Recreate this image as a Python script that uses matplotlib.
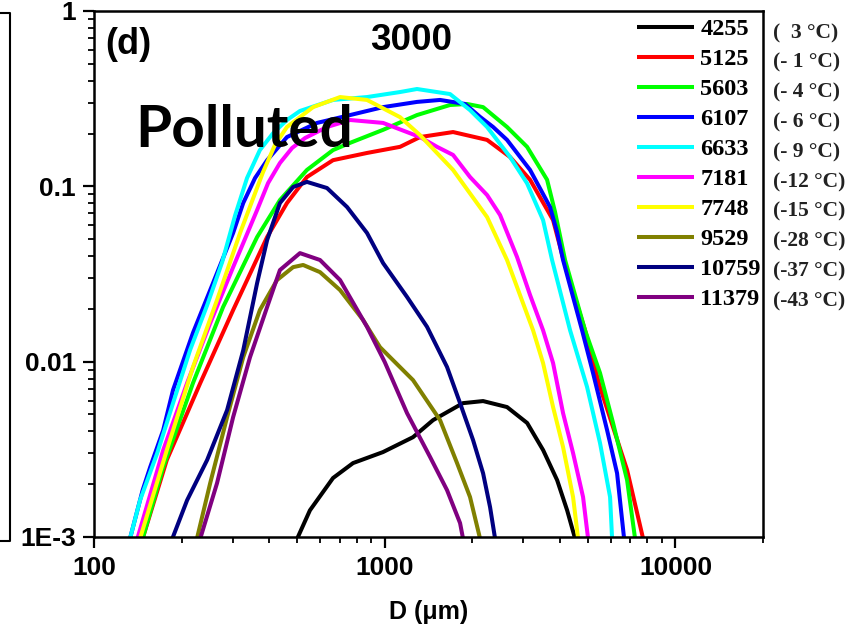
import matplotlib
matplotlib.use("Agg")
import matplotlib.pyplot as plt
from matplotlib.ticker import FixedLocator, LogLocator, NullFormatter
from matplotlib.lines import Line2D

plt.rcParams["font.family"] = ["Liberation Sans", "DejaVu Sans"]
plt.rcParams["font.weight"] = "bold"

# ---------------- data ----------------
labels = ["4255", "5125", "5603", "6107", "6633", "7181", "7748", "9529", "10759", "11379"]
temps = ["(  3 °C)", "(- 1 °C)", "(- 4 °C)", "(- 6 °C)", "(- 9 °C)",
         "(-12 °C)", "(-15 °C)", "(-28 °C)", "(-37 °C)", "(-43 °C)"]
colors = ["#000000", "#FF0000", "#00FF00", "#0000FF", "#00FFFF",
          "#FF00FF", "#FFFF00", "#808000", "#000080", "#800080"]

D_4255 = [500, 553, 664, 778, 986, 1251, 1466, 1858, 2179, 2634, 3089, 3506, 3917, 4240, 4515]
N_4255 = [0.00098, 0.00142, 0.00217, 0.00264, 0.00305, 0.00371, 0.00464, 0.0058, 0.00596,
          0.00551, 0.00447, 0.00313, 0.00211, 0.00142, 0.00098]

D_5125 = [147, 178, 232, 301, 394, 461, 540, 664, 869, 1129, 1322, 1718, 2249, 2698, 3161,
          3793, 4105, 4479, 4887, 5502, 6100, 6817, 7737]
N_5125 = [0.00098, 0.00275, 0.00755, 0.0197, 0.0514, 0.0803, 0.113, 0.141, 0.155, 0.168, 0.191,
          0.204, 0.184, 0.147, 0.109, 0.0642, 0.039, 0.024, 0.0151, 0.00716, 0.00423, 0.00241,
          0.00098]

D_5603 = [147, 173, 219, 278, 364, 436, 540, 664, 760, 987, 1291, 1677, 1919, 2179, 2634, 3087,
          3617, 3853, 4171, 4887, 5502, 6100, 6817, 7261]
N_5603 = [0.00098, 0.0025, 0.00755, 0.0205, 0.0514, 0.0835, 0.124, 0.161, 0.177, 0.210, 0.255,
          0.291, 0.295, 0.283, 0.218, 0.168, 0.109, 0.0714, 0.038, 0.0151, 0.00861, 0.00447,
          0.00211, 0.00098]

D_6107 = [133, 147, 156, 173, 187, 219, 251, 301, 326, 358, 394, 461, 585, 760, 987, 1291, 1550,
          1889, 2127, 2359, 2634, 3161, 3704, 3914, 4105, 4772, 5206, 5818, 6297, 6657]
N_6107 = [0.00098, 0.00185, 0.0025, 0.00407, 0.00689, 0.0146, 0.0256, 0.0542, 0.0803, 0.1115,
          0.141, 0.191, 0.230, 0.255, 0.283, 0.303, 0.311, 0.295, 0.249, 0.218, 0.184, 0.124,
          0.0762, 0.0549, 0.038, 0.0151, 0.00861, 0.00407, 0.00231, 0.00098]

D_6633 = [133, 144, 165, 187, 214, 245, 276, 306, 336, 372, 413, 461, 511, 664, 869, 1129, 1291,
          1677, 1965, 2249, 2698, 3087, 3504, 3763, 4340, 4966, 5502, 5957, 6053]
N_6633 = [0.00098, 0.00162, 0.00301, 0.0058, 0.01165, 0.0210, 0.0370, 0.0686, 0.1115, 0.161,
          0.201, 0.239, 0.269, 0.311, 0.323, 0.345, 0.359, 0.336, 0.272, 0.218, 0.147, 0.104,
          0.0642, 0.038, 0.0151, 0.00716, 0.00343, 0.00169, 0.00098]

D_7181 = [141, 173, 209, 251, 301, 364, 397, 436, 480, 532, 633, 760, 987, 1322, 1513, 1718,
          1965, 2249, 2493, 2852, 3161, 3504, 3793, 4105, 4444, 4810, 5005]
N_7181 = [0.00098, 0.00313, 0.00755, 0.0166, 0.0346, 0.0733, 0.1044, 0.1358, 0.1654, 0.1886,
          0.218, 0.239, 0.230, 0.191, 0.168, 0.151, 0.113, 0.0892, 0.0686, 0.0395, 0.024, 0.0151,
          0.00982, 0.00509, 0.00301, 0.00169, 0.00098]

D_7748 = [144, 178, 219, 265, 318, 381, 419, 461, 567, 702, 869, 1129, 1322, 1718, 2249, 2634,
          3237, 3504, 3793, 4105, 4444, 4624]
N_7748 = [0.00098, 0.00313, 0.00932, 0.0225, 0.0542, 0.12, 0.172, 0.218, 0.283, 0.323, 0.311,
          0.248, 0.196, 0.124, 0.0668, 0.038, 0.0151, 0.00982, 0.00551, 0.00326, 0.00169, 0.00098]

D_9529 = [226, 251, 287, 326, 372, 426, 484, 524, 599, 702, 842, 963, 1251, 1550, 1773, 1965, 2127]
N_9529 = [0.00098, 0.00203, 0.00483, 0.0106, 0.0197, 0.0292, 0.0346, 0.0356, 0.0324, 0.0256,
          0.0173, 0.0121, 0.00785, 0.00464, 0.00264, 0.00169, 0.00098]

D_10759 = [186, 209, 245, 287, 326, 364, 394, 436, 484, 540, 633, 742, 869, 987, 1193, 1398,
           1638, 1816, 2013, 2179, 2303, 2396]
N_10759 = [0.00098, 0.00162, 0.00275, 0.0053, 0.0116, 0.0281, 0.0494, 0.0803, 0.0991, 0.106,
           0.0978, 0.0762, 0.0542, 0.0365, 0.0234, 0.0158, 0.00932, 0.0058, 0.00357, 0.00231,
           0.00148, 0.00098]

D_11379 = [232, 265, 301, 344, 394, 436, 511, 599, 702, 869, 1000, 1193, 1432, 1638, 1816, 1859]
N_11379 = [0.00098, 0.00203, 0.00483, 0.0106, 0.0205, 0.0333, 0.0416, 0.038, 0.0292, 0.0158,
           0.00995, 0.00509, 0.00286, 0.00185, 0.0012, 0.00098]

D_all = [D_4255, D_5125, D_5603, D_6107, D_6633, D_7181, D_7748, D_9529, D_10759, D_11379]
N_all = [N_4255, N_5125, N_5603, N_6107, N_6633, N_7181, N_7748, N_9529, N_10759, N_11379]

x_ticks = [100, 1000, 10000]
x_ticklabels = ["100", "1000", "10000"]
y_ticks = [1e-3, 1e-2, 1e-1, 1]
y_ticklabels = ["1E-3", "0.01", "0.1", "1"]

# ---------------- figure ----------------
W, H = 846, 624
fig = plt.figure(figsize=(W / 100, H / 100), dpi=100)


def fx(px):
    return px / W


def fy(py):
    return 1 - py / H


ax = fig.add_axes([fx(94), fy(537), fx(763) - fx(94), fy(11) - fy(537)])
ax.set_xscale("log")
ax.set_yscale("log")

for lab, col, D, N in zip(labels, colors, D_all, N_all):
    ax.plot(D, N, color=col, lw=2.9, label=lab, solid_joinstyle="round", solid_capstyle="butt")

ax.set_xlim(100, 20000)
ax.set_ylim(1e-3, 1)

ax.xaxis.set_major_locator(FixedLocator(x_ticks))
ax.set_xticklabels(x_ticklabels)
ax.yaxis.set_major_locator(FixedLocator(y_ticks))
ax.set_yticklabels(y_ticklabels)
ax.xaxis.set_minor_locator(LogLocator(base=10, subs=range(2, 10), numticks=20))
ax.yaxis.set_minor_locator(LogLocator(base=10, subs=range(2, 10), numticks=20))
ax.xaxis.set_minor_formatter(NullFormatter())
ax.yaxis.set_minor_formatter(NullFormatter())

ax.tick_params(which="major", direction="out", length=8, width=1.6, labelsize=19)
ax.tick_params(axis="y", which="major", pad=5)
ax.tick_params(axis="x", which="major", pad=6)
ax.tick_params(which="minor", direction="out", length=4.3, width=1.3)
for s in ax.spines.values():
    s.set_linewidth(1.8)

ax.set_xlabel("D (μm)", fontsize=18, fontweight="bold", labelpad=14)

fig.text(fx(105), fy(45), "(d)", fontsize=26, fontweight="bold", ha="left", va="center")
fig.text(fx(411), fy(40), "3000", fontsize=26.5, fontweight="bold", ha="center", va="center")
fig.text(fx(135), fy(147), "Polluted", fontsize=42, fontweight="bold", family="Lato",
         ha="left", va="baseline")

leg = ax.legend(loc="upper left", bbox_to_anchor=(fx(637), fy(18)), bbox_transform=fig.transFigure,
                frameon=False, borderpad=0, borderaxespad=0, handlelength=2.35,
                handletextpad=0.25, labelspacing=0.33,
                prop={"family": "Liberation Serif", "weight": "bold", "size": 17.5})

for i, t in enumerate(temps):
    fig.text(fx(773), fy(33 + 29.8 * i), t, fontsize=15.5, fontweight="bold",
             family="Liberation Serif", color="#222222", ha="left", va="center")

# remnant of the neighbouring panel at the left edge
fig.add_artist(Line2D([fx(0), fx(10), fx(10), fx(0)], [fy(13), fy(13), fy(541), fy(541)],
                      transform=fig.transFigure, color="black", lw=1.5))

fig.savefig("out.png", dpi=100)
